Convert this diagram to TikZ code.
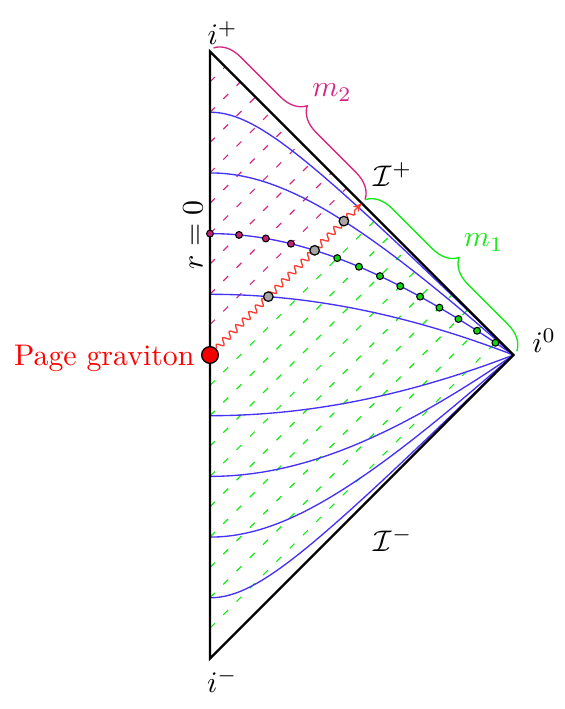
\documentclass[tikz,border=0pt]{standalone}
\usetikzlibrary{decorations.pathmorphing,decorations.pathreplacing,arrows.meta}
\definecolor{mcol}{RGB}{214,40,130}
\definecolor{gcol}{RGB}{20,235,20}
\definecolor{bcol}{RGB}{70,50,245}
\definecolor{rcol}{RGB}{250,60,50}
\tikzset{
  hatchm/.style={mcol, line width=0.4pt, dash pattern=on 2.3pt off 4pt},
  hatchg/.style={gcol, line width=0.4pt, dash pattern=on 2.3pt off 4pt},
  slice/.style={bcol, line width=0.45pt},
  border/.style={black, line width=0.8pt, line join=miter},
  mdot/.style={circle, draw=black, fill=mcol!90!black, line width=0.35pt, minimum size=2.3pt, inner sep=0pt},
  gdot/.style={circle, draw=black, fill=gcol!90!black, line width=0.35pt, minimum size=2.3pt, inner sep=0pt},
  graydot/.style={circle, draw=black, fill=black!35, line width=0.4pt, minimum size=3.2pt, inner sep=0pt},
  pagedot/.style={circle, draw=black, fill=red!95!black, line width=0.45pt, minimum size=5.6pt, inner sep=0pt},
  lab/.style={inner sep=0pt},
  bracem/.style={decorate, decoration={brace, amplitude=8.5pt, raise=1.7pt}, mcol, line width=0.45pt},
  braceg/.style={decorate, decoration={brace, amplitude=8.5pt, raise=1.7pt}, gcol, line width=0.45pt},
  wave/.style={rcol, line width=0.45pt, decorate,
    decoration={snake, amplitude=1.05pt, segment length=3.1pt, post length=3pt},
    -{Stealth[length=3pt,width=2.6pt]}}
}
\begin{document}
\begin{tikzpicture}[x=0.5654pt,y=0.5654pt]
\useasboundingbox (-124.55,-209.96) rectangle (209.96,210.56);
\coordinate (ip) at (0,180);
\coordinate (im) at (0,-180);
\coordinate (io) at (180,0);
\coordinate (sp) at (90,90);

% hatching (outgoing null rays)
\foreach \B in {9,18,...,81} \draw[hatchm] (0,{2*\B}) -- ({90-\B},{90+\B});
\foreach \B in {-9,-18,...,-81} \draw[hatchg] (0,{2*\B}) -- ({90-\B},{90+\B});

% slices
\foreach \f/\g in {0.2/0.384615, 0.4/0.689655, 0.6/0.882353, 0.8/0.975610} {
  \draw[slice] plot[domain=-1:\f, samples=100, variable=\b]
    ({90*((\g-(\b))/(1-\g*(\b))) - 90*(\b)}, {90*((\g-(\b))/(1-\g*(\b))) + 90*(\b)});
  \draw[slice] plot[domain=-1:\f, samples=100, variable=\b]
    ({90*((\g-(\b))/(1-\g*(\b))) - 90*(\b)}, {-90*((\g-(\b))/(1-\g*(\b))) - 90*(\b)});
}

% boundary
\draw[border] (ip) -- (io) -- (im) -- cycle;

% braces
\draw[bracem] (ip) -- (sp);
\draw[braceg] (sp) -- (io);

% Page graviton and wavy ray
\node[pagedot] (pg) at (0,0) {};
\draw[wave] (pg) -- (sp);

% dots on the slice
\foreach \j in {0,...,3} {
  \pgfmathsetmacro\bb{0.4-0.1*\j}
  \pgfmathsetmacro\aa{(0.689655-\bb)/(1-0.689655*\bb)}
  \node[mdot] (m\j) at ({90*(\aa-\bb)},{90*(\aa+\bb)}) {};
}
\foreach \j in {5,...,13} {
  \pgfmathsetmacro\bb{0.4-0.1*\j}
  \pgfmathsetmacro\aa{(0.689655-\bb)/(1-0.689655*\bb)}
  \node[gdot] (n\j) at ({90*(\aa-\bb)},{90*(\aa+\bb)}) {};
}
\node[graydot] (g1) at (34.615,34.615) {};
\node[graydot] (g2) at (62.069,62.069) {};
\node[graydot] (g3) at (79.412,79.412) {};

% labels
\node[lab, anchor=base west] (lip) at (-1.8,183.9) {$i^+$};
\node[lab, anchor=base west] (lim) at (-2,-199.9) {$i^-$};
\node[lab, anchor=base west] (lio) at (190.8,1.2) {$i^0$};
\node[lab, anchor=base west] (lsp) at (96.9,100.2) {$\mathcal{I}^+$};
\node[lab, anchor=base west] (lsm) at (96.9,-116.3) {$\mathcal{I}^-$};
\node[lab, anchor=base west, text=mcol] (lm2) at (60.3,153.2) {$m_2$};
\node[lab, anchor=base west, text=gcol] (lm1) at (150.2,64.2) {$m_1$};
\node[lab, rotate=90] (lr) at (-10.1,71.2) {$r=0$};
\node[lab, anchor=base east, text=red] (lpg) at (-8.9,-6.5) {Page graviton};
\end{tikzpicture}
\end{document}
